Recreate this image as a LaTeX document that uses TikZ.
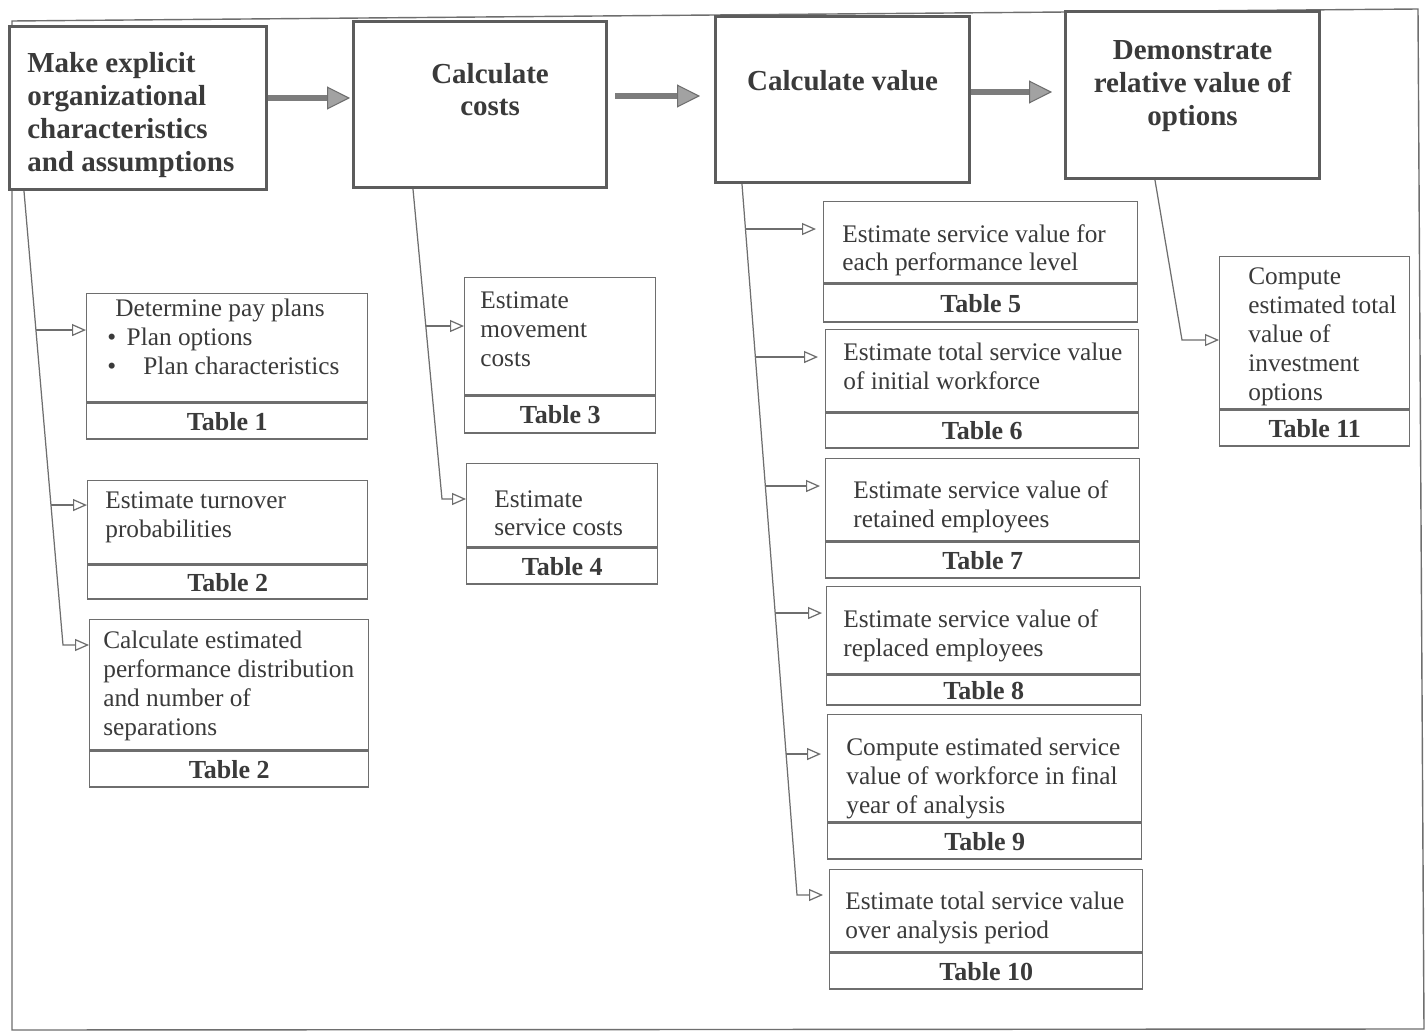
\documentclass[tikz,border=0pt]{standalone}
\usepackage{fontspec}
\setmainfont{Liberation Serif}
\usetikzlibrary{arrows.meta}

\definecolor{ink}{HTML}{3A3A3A}
\definecolor{rule}{HTML}{6E6E6E}
\definecolor{frame}{HTML}{5C5C5C}
\definecolor{shaft}{HTML}{7C7C7C}
\definecolor{head}{HTML}{A2A2A2}

\newcommand\txtfont{\fontsize{14.4}{16.4}\selectfont}
\newcommand\stagefont{\fontsize{16.5}{18.7}\selectfont\bfseries}
\newcommand\tabfont{\fontsize{14.8}{16}\selectfont\bfseries}
\def\px{0.02cm} % one pixel of the scan

\tikzset{
  stage/.style={draw=frame, line width=1.8pt, fill=white, anchor=north west, inner sep=0pt},
  stagetxt/.style={font=\stagefont, text=ink, inner sep=0pt},
  cell/.style={draw=rule, line width=0.8pt, fill=white, anchor=north west, inner sep=0pt},
  tab/.style={cell, font=\tabfont, text=ink},
  txt/.style={font=\txtfont, text=ink, align=left, anchor=west, inner sep=0pt},
  flow/.style={draw=shaft, line width=3.5pt, -{Triangle[length=0.46cm, width=0.46cm, fill=head, color=rule, line width=0.6pt]}},
  feed/.style={draw=rule, line width=0.7pt, -{Triangle[open, length=0.28cm, width=0.24cm, line width=0.7pt]}},
}

\begin{document}
\begin{tikzpicture}[x=\px, y=-\px]
\useasboundingbox (0,0) rectangle (1428,1034);
\fill[white] (0,0) rectangle (1428,1034);
\draw[rule, line width=0.8pt] (12,21) -- (1418,9) -- (1424,1029) -- (12,1030) -- cycle;

% the four stages
\node[stage, minimum width=257*\px, minimum height=163*\px] (mk) at (8,25) {};
\node[stage, minimum width=253*\px, minimum height=166*\px] (cc) at (352,20) {};
\node[stage, minimum width=254*\px, minimum height=166*\px] (cv) at (714,15) {};
\node[stage, minimum width=254*\px, minimum height=167*\px] (dm) at (1064,10) {};
\node[stagetxt, align=left, anchor=west] (mk-t) at ([shift={(19,7)}]mk.west) {Make explicit\\organizational\\characteristics\\and assumptions};
\node[stagetxt, align=center] (cc-t) at ([shift={(10,-15)}]cc.center) {Calculate\\costs};
\node[stagetxt, align=center] (cv-t) at ([shift={(0,-19)}]cv.center) {Calculate value};
\node[stagetxt, align=center] (dm-t) at ([shift={(0,-9)}]dm.center) {Demonstrate\\relative value of\\options};

\draw[flow, shorten >=0.04cm] (mk.east |- 0,98) -- (cc.west |- 0,98);
\draw[flow, shorten <=0.14cm, shorten >=0.28cm] (cc.east |- 0,96) -- (cv.west |- 0,96);
\draw[flow, shorten >=0.24cm] (cv.east |- 0,92) -- (dm.west |- 0,92);

% steps under "make explicit"
\node[cell, minimum width=281*\px, minimum height=108*\px] (pay) at (86,293) {};
\node[tab, minimum width=281*\px, minimum height=36*\px] (pay-n) at (pay.south west) {Table 1};
\node[txt] (pay-t) at ([shift={(21,-11)}]pay.west) {\hspace*{4.5pt}Determine pay plans\\ \textbullet\hspace{6pt}Plan options\\ \textbullet\hspace{15.5pt}Plan characteristics};

\node[cell, minimum width=280*\px, minimum height=83*\px] (turn) at (87,480) {};
\node[tab, minimum width=280*\px, minimum height=34*\px] (turn-n) at (turn.south west) {Table 2};
\node[txt] (turn-t) at ([shift={(18,-5)}]turn.west) {Estimate turnover\\probabilities};

\node[cell, minimum width=279*\px, minimum height=130*\px] (perf) at (89,619) {};
\node[tab, minimum width=279*\px, minimum height=36*\px] (perf-n) at (perf.south west) {Table 2};
\node[txt] (perf-t) at ([shift={(14,1)}]perf.west) {Calculate estimated\\performance distribution\\and number of\\separations};

% steps under "calculate costs"
\node[cell, minimum width=191*\px, minimum height=117*\px] (move) at (464,277) {};
\node[tab, minimum width=191*\px, minimum height=37*\px] (move-n) at (move.south west) {Table 3};
\node[txt] (move-t) at ([shift={(16,-7)}]move.west) {Estimate\\movement\\costs};

\node[cell, minimum width=191*\px, minimum height=83*\px] (serv) at (466,463) {};
\node[tab, minimum width=191*\px, minimum height=36*\px] (serv-n) at (serv.south west) {Table 4};
\node[txt] (serv-t) at ([shift={(28,8)}]serv.west) {Estimate\\service costs};

% steps under "calculate value"
\node[cell, minimum width=314*\px, minimum height=81*\px] (lvl) at (823,201) {};
\node[tab, minimum width=314*\px, minimum height=38*\px] (lvl-n) at (lvl.south west) {Table 5};
\node[txt] (lvl-t) at ([shift={(19,8)}]lvl.west) {Estimate service value for\\each performance level};

\node[cell, minimum width=313*\px, minimum height=82*\px] (init) at (825,329) {};
\node[tab, minimum width=313*\px, minimum height=35*\px] (init-n) at (init.south west) {Table 6};
\node[txt] (init-t) at ([shift={(18,-4)}]init.west) {Estimate total service value\\of initial workforce};

\node[cell, minimum width=314*\px, minimum height=82*\px] (kept) at (825,458) {};
\node[tab, minimum width=314*\px, minimum height=36*\px] (kept-n) at (kept.south west) {Table 7};
\node[txt] (kept-t) at ([shift={(28,7)}]kept.west) {Estimate service value of\\retained employees};

\node[cell, minimum width=314*\px, minimum height=87*\px] (repl) at (826,586) {};
\node[tab, minimum width=314*\px, minimum height=30*\px] (repl-n) at (repl.south west) {Table 8};
\node[txt] (repl-t) at ([shift={(17,6)}]repl.west) {Estimate service value of\\replaced employees};

\node[cell, minimum width=314*\px, minimum height=107*\px] (fin) at (827,714) {};
\node[tab, minimum width=314*\px, minimum height=36*\px] (fin-n) at (fin.south west) {Table 9};
\node[txt] (fin-t) at ([shift={(19,10)}]fin.west) {Compute estimated service\\value of workforce in final\\year of analysis};

\node[cell, minimum width=313*\px, minimum height=82*\px] (tot) at (829,869) {};
\node[tab, minimum width=313*\px, minimum height=36*\px] (tot-n) at (tot.south west) {Table 10};
\node[txt] (tot-t) at ([shift={(16,7)}]tot.west) {Estimate total service value\\over analysis period};

% step under "demonstrate"
\node[cell, minimum width=190*\px, minimum height=152*\px] (inv) at (1219,256) {};
\node[tab, minimum width=190*\px, minimum height=36*\px] (inv-n) at (inv.south west) {Table 11};
\node[txt] (inv-t) at ([shift={(29,4)}]inv.west) {Compute\\estimated total\\value of\\investment\\options};

% feeders
\coordinate (s1) at (mk.south -| 24,0);
\coordinate (c1) at (63,645);
\coordinate (j1) at (intersection of s1--c1 and 0,330--1,330);
\coordinate (j2) at (intersection of s1--c1 and 0,505--1,505);
\draw[feed] (s1) -- (c1) -- (c1 -| perf.west);
\draw[feed] (j1) -- (j1 -| pay.west);
\draw[feed] (j2) -- (j2 -| turn.west);

\coordinate (s2) at (cc.south -| 413,0);
\coordinate (c2) at (442,499);
\coordinate (j3) at (intersection of s2--c2 and 0,326--1,326);
\draw[feed] (s2) -- (c2) -- (c2 -| serv.west);
\draw[feed] (j3) -- (j3 -| move.west);

\coordinate (s3) at (cv.south -| 742,0);
\coordinate (c3) at (797,895);
\coordinate (j4) at (intersection of s3--c3 and 0,229--1,229);
\coordinate (j5) at (intersection of s3--c3 and 0,357--1,357);
\coordinate (j6) at (intersection of s3--c3 and 0,486--1,486);
\coordinate (j7) at (intersection of s3--c3 and 0,613--1,613);
\coordinate (j8) at (intersection of s3--c3 and 0,754--1,754);
\draw[feed, shorten >=0.12cm] (s3) -- (c3) -- (c3 -| tot.west);
\draw[feed, shorten >=0.14cm] (j4) -- (j4 -| lvl.west);
\draw[feed, shorten >=0.14cm] (j5) -- (j5 -| init.west);
\draw[feed, shorten >=0.1cm] (j6) -- (j6 -| kept.west);
\draw[feed, shorten >=0.08cm] (j7) -- (j7 -| repl.west);
\draw[feed, shorten >=0.12cm] (j8) -- (j8 -| fin.west);

\coordinate (s4) at (dm.south -| 1155,0);
\coordinate (c4) at (1182,340);
\draw[feed] (s4) -- (c4) -- (c4 -| inv.west);
\end{tikzpicture}
\end{document}
